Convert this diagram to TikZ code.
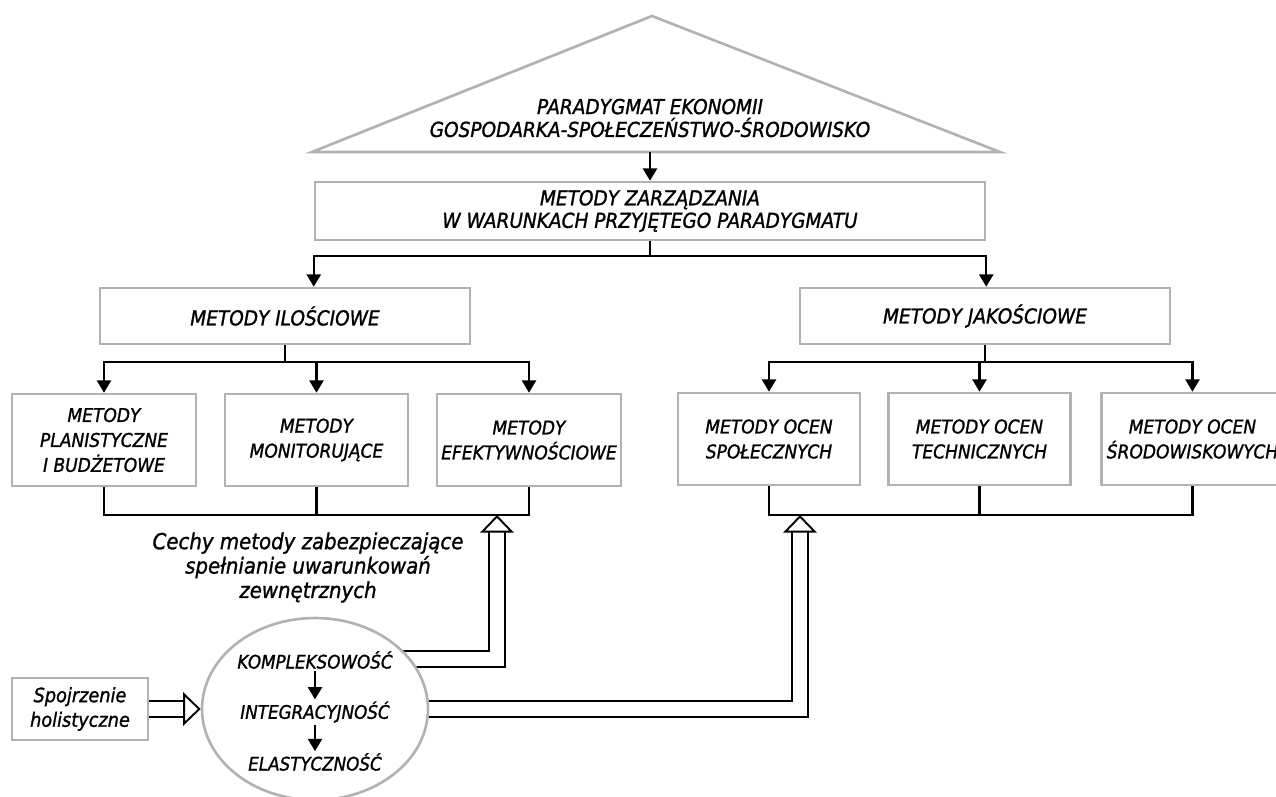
\documentclass[tikz,border=0pt]{standalone}
\usepackage{fontspec}
\setmainfont{DejaVu Sans}[FakeStretch=0.9, FakeBold=1.2]
\usetikzlibrary{arrows.meta,shapes.geometric,backgrounds}
\tikzset{
  box/.style={draw=gray!60, line width=1.5pt, fill=white, align=center, inner sep=2pt,
    font=\fontsize{10.8}{14.2}\selectfont\itshape},
  bigbox/.style={box, font=\fontsize{11.7}{12.8}\selectfont\itshape},
  conn/.style={line width=1.3pt, -{Triangle[length=7pt,width=8pt]}},
  link/.style={line width=1.3pt},
  hollow/.style={double, line width=1.1pt, double distance=7.6pt,
    -{Triangle[open,length=10pt,width=19pt]}},
  label/.style={align=center, inner sep=1pt, font=\fontsize{10.6}{13}\selectfont\itshape}
}
\begin{document}
\begin{tikzpicture}[x=0.02cm, y=-0.02cm]
\useasboundingbox (0,0) rectangle (1276,796);

\coordinate (roofL) at (312,152);
\coordinate (roofT) at (652,16);
\coordinate (roofR) at (1000,152);
\coordinate (roofB) at (650,152);
\draw[gray!60, line width=1.5pt] (roofL) -- (roofT) -- (roofR) -- cycle;
\node[label, font=\fontsize{11.7}{13}\selectfont\itshape] (par) at (650,118)
  {PARADYGMAT EKONOMII\\GOSPODARKA-SPOŁECZEŃSTWO-ŚRODOWISKO};

\node[bigbox, minimum width=13.4cm, minimum height=1.16cm] (zarz) at (650,211)
  {METODY ZARZĄDZANIA\\W WARUNKACH PRZYJĘTEGO PARADYGMATU};
\node[bigbox, minimum width=7.4cm, minimum height=1.12cm] (ilo) at (285,316) {METODY ILOŚCIOWE};
\node[bigbox, minimum width=7.4cm, minimum height=1.12cm] (jak) at (985,316) {METODY JAKOŚCIOWE};

\node[box, minimum width=3.68cm, minimum height=1.84cm] (plan) at (104,440) {METODY\\PLANISTYCZNE\\I BUDŻETOWE};
\node[box, minimum width=3.66cm, minimum height=1.84cm] (mon) at (316.5,440) {METODY\\MONITORUJĄCE};
\node[box, minimum width=3.68cm, minimum height=1.84cm] (eff) at (529,440) {METODY\\EFEKTYWNOŚCIOWE};

\node[box, minimum width=3.64cm, minimum height=1.84cm] (spol) at (769,439) {METODY OCEN\\SPOŁECZNYCH};
\node[box, minimum width=3.64cm, minimum height=1.84cm] (tech) at (979.5,439) {METODY OCEN\\TECHNICZNYCH};
\node[box, minimum width=3.64cm, minimum height=1.84cm] (srod) at (1192.5,439) {METODY OCEN\\ŚRODOWISKOWYCH};

\draw[conn] (roofB) -- (zarz.north);
\coordinate (split1) at (650,256);
\draw[link] (zarz.south) -- (split1);
\draw[conn] (split1) -| (zarz.south west |- ilo.north);
\draw[conn] (split1) -| (zarz.south east |- jak.north);

\coordinate (splitL) at (285,362);
\draw[link] (ilo.south) -- (splitL);
\draw[conn] (splitL) -| (plan.north);
\draw[conn] (splitL) -| (mon.north);
\draw[conn] (splitL) -| (eff.north);

\coordinate (splitR) at (985,362);
\draw[link] (jak.south) -- (splitR);
\draw[conn] (splitR) -| (spol.north);
\draw[conn] (splitR) -| (tech.north);
\draw[conn] (splitR) -| (srod.north);

\coordinate (bl) at (0,515);
\coordinate (br) at (0,515);
\draw[link] (plan.south) |- (bl -| eff.south) -- (eff.south);
\draw[link] (mon.south) -- (mon.south |- bl);
\draw[link] (spol.south) |- (br -| srod.south) -- (srod.south);
\draw[link] (tech.south) -- (tech.south |- br);

\node[label, font=\fontsize{12.5}{13.9}\selectfont\itshape] (cechy) at (308,567.5)
  {Cechy metody zabezpieczające\\spełnianie uwarunkowań\\zewnętrznych};

\node[box, font=\fontsize{11.2}{14}\selectfont\itshape, minimum width=2.72cm, minimum height=1.24cm] (holi) at (80,709)
  {Spojrzenie\\holistyczne};
\node[ellipse, draw=gray!60, line width=1.5pt, fill=white, minimum width=4.52cm, minimum height=3.64cm] (ell) at (315,709) {};
\node[label] (komp) at (315,660) {KOMPLEKSOWOŚĆ};
\node[label] (integ) at (315,712) {INTEGRACYJNOŚĆ};
\node[label] (elast) at (315,762) {ELASTYCZNOŚĆ};
\draw[conn] (komp) -- (integ);
\draw[conn] (integ) -- (elast);

\coordinate (inL) at (497,515);
\coordinate (inR) at (800,515);
\begin{scope}[on background layer]
\draw[hollow] (ell.center |- 0,659) -| (inL);
\draw[hollow] (ell.center |- 0,709) -| (inR);
\end{scope}
\draw[hollow] (holi.east) -- (ell.west);
\end{tikzpicture}
\end{document}
